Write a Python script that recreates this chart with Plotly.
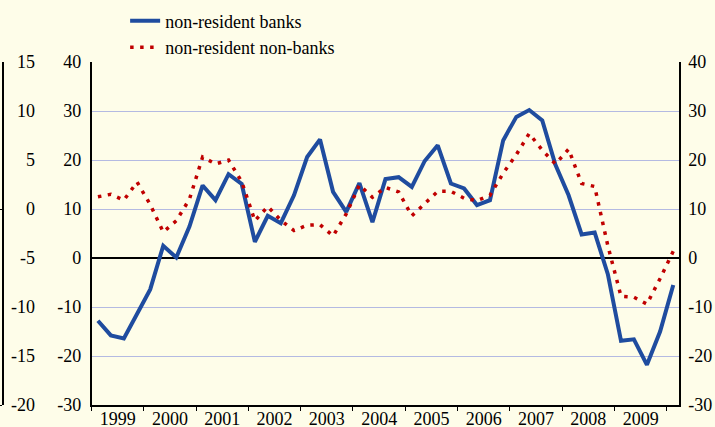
import pandas as pd
import plotly.graph_objects as go

# Quarterly observations, 1999Q1 .. 2010Q1
quarter_start = pd.date_range("1999-01-01", periods=45, freq="QS")
quarter_mid = quarter_start + pd.Timedelta(days=45)

banks = [-12.8, -15.8, -16.4, -11.3, -6.4, 2.5, 0.1, 6.4, 14.8, 11.8,
         17.1, 15.1, 3.3, 8.6, 7.1, 12.8, 20.6, 24.2, 13.5, 9.4,
         15.3, 7.3, 16.1, 16.5, 14.5, 19.8, 23.0, 15.2, 14.2, 10.8,
         11.8, 24.0, 28.8, 30.2, 28.1, 19.0, 12.8, 4.8, 5.2, -3.3,
         -16.9, -16.6, -21.8, -15.0, -5.5]
non_banks = [12.5, 13.0, 11.8, 15.5, 10.9, 5.3, 7.6, 12.0, 20.6, 19.2,
             20.0, 15.6, 7.6, 10.5, 7.7, 5.6, 6.7, 6.8, 4.5, 9.0,
             14.9, 12.4, 14.4, 13.5, 8.6, 11.0, 13.6, 13.6, 12.2, 11.7,
             12.8, 17.3, 21.1, 25.4, 22.0, 19.2, 22.2, 15.2, 14.6, 2.5,
             -7.8, -8.0, -9.4, -4.2, 1.4]

names = ["non-resident banks", "non-resident non-banks"]
main_ticks = [-30, -20, -10, 0, 10, 20, 30, 40]
outer_ticks = [-20, -15, -10, -5, 0, 5, 10, 15]
main_labels = [str(v) for v in main_ticks]
outer_labels = [str(v) for v in outer_ticks]

BG = "#FEFDE9"
GRID = "#B4BAE2"
FONT = "Liberation Serif"

fig = go.Figure()
fig.add_trace(go.Scatter(x=quarter_mid, y=banks, name=names[0], mode="lines",
                         line=dict(color="#1F4C9F", width=4)))
fig.add_trace(go.Scatter(x=quarter_mid, y=non_banks, name=names[1], mode="lines",
                         line=dict(color="#C00000", width=3.5, dash="3.5px,6.5px")))
# helper traces to activate the extra axes
for ya in ["y2", "y3", "y4"]:
    fig.add_trace(go.Scatter(x=[], y=[], yaxis=ya, showlegend=False,
                             hoverinfo="skip"))

tickfont = dict(family=FONT, size=18, color="black")
fig.update_layout(
    width=715, height=427,
    paper_bgcolor=BG, plot_bgcolor=BG,
    margin=dict(l=3, r=36, t=62, b=22, autoexpand=False),
    showlegend=True,
    legend=dict(xref="container", yref="container", x=0.175, y=0.994,
                xanchor="left", yanchor="top", bgcolor="rgba(0,0,0,0)",
                font=dict(family=FONT, size=18, color="black"),
                tracegroupgap=0),
    xaxis=dict(type="date", domain=[(91.5 - 3) / 676, 1],
               range=["1999-01-01", "2010-03-27"],
               tick0="1999-01-01", dtick="M12", tickformat="%Y",
               ticklabelmode="period", ticks="outside", ticklen=4,
               tickcolor="black", showline=True, linecolor="black",
               linewidth=1.5, showgrid=False, zeroline=False,
               tickangle=0, ticklabelstandoff=-7, tickfont=tickfont),
    yaxis=dict(range=[-30, 40], tickvals=main_ticks, ticktext=main_labels,
               showgrid=True, gridcolor=GRID, gridwidth=1, zeroline=True,
               zerolinecolor="black", zerolinewidth=1.5, showline=True,
               linecolor="black", linewidth=1.5, ticks="",
               ticklabelstandoff=5, tickfont=tickfont),
    yaxis2=dict(range=[-30, 40], tickvals=main_ticks, ticktext=main_labels,
                overlaying="y", side="right", anchor="x", showgrid=False,
                zeroline=False, showline=True, linecolor="black",
                linewidth=1.5, ticks="", ticklabelstandoff=4,
                tickfont=tickfont),
    yaxis3=dict(range=[-20, 15], overlaying="y", anchor="free", position=0,
                side="left", showgrid=False, zeroline=False, showline=True,
                linecolor="black", linewidth=1.5, tickvals=[-20, 0],
                ticks="outside", ticklen=3, tickcolor="black",
                showticklabels=False),
    yaxis4=dict(range=[-20, 15], overlaying="y", anchor="free",
                position=32 / 676, side="left", showgrid=False,
                zeroline=False, showline=False, tickvals=outer_ticks,
                ticktext=outer_labels, ticks="", tickfont=tickfont),
)

fig.write_html("out.html", config={"displayModeBar": False},
               post_script="document.body.style.margin='0px';")
